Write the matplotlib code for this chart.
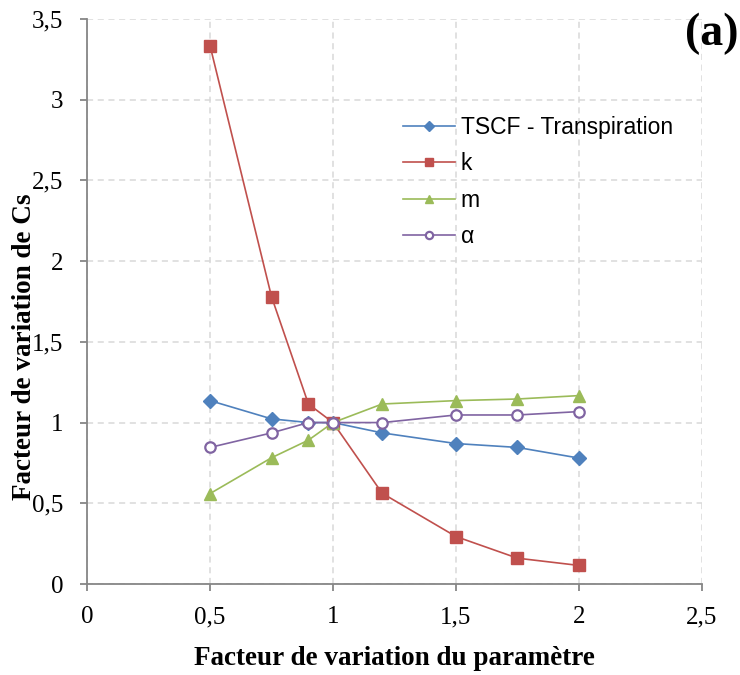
import matplotlib
matplotlib.use("Agg")
import matplotlib.pyplot as plt
from matplotlib.ticker import FuncFormatter

x = [0.5, 0.75, 0.9, 1.0, 1.2, 1.5, 1.75, 2.0]
tscf = [1.136, 1.023, 1.0, 1.0, 0.936, 0.870, 0.846, 0.780]
k_vals = [3.335, 1.780, 1.115, 1.0, 0.562, 0.294, 0.160, 0.115]
m_vals = [0.560, 0.782, 0.891, 1.0, 1.115, 1.136, 1.146, 1.167]
alpha_vals = [0.846, 0.936, 1.0, 1.0, 1.0, 1.047, 1.047, 1.068]
labels = ["TSCF - Transpiration", "k", "m", "α"]

fig = plt.figure(figsize=(7.4, 6.75), dpi=100)
ax = fig.add_axes([0.1176, 0.1348, 0.8310, 0.8371])

ms = 8.5
ax.plot(x, tscf, color="#4F81BD", lw=1.2, marker="D", ms=7.5, label=labels[0])
ax.plot(x, k_vals, color="#C0504D", lw=1.2, marker="s", ms=ms, label=labels[1])
ax.plot(x, m_vals, color="#9BBB59", lw=1.2, marker="^", ms=ms, label=labels[2])
ax.plot(x, alpha_vals, color="#8064A2", lw=1.2, marker="o", ms=7.5, mfc="white",
        mew=1.6, label=labels[3])

ax.set_xlim(0, 2.5)
ax.set_ylim(0, 3.5)
ax.set_xticks([0, 0.5, 1, 1.5, 2, 2.5])
ax.set_yticks([0, 0.5, 1, 1.5, 2, 2.5, 3, 3.5])
fmt = FuncFormatter(lambda v, p: ("%g" % v).replace(".", ","))
ax.xaxis.set_major_formatter(fmt)
ax.yaxis.set_major_formatter(fmt)

ax.grid(True, color="#D9D9D9", ls=(0, (4, 3)), lw=1.1)
ax.set_axisbelow(True)
for s in ["top", "right"]:
    ax.spines[s].set_visible(False)
for s in ["left", "bottom"]:
    ax.spines[s].set_color("#868686")
    ax.spines[s].set_linewidth(1.3)
ax.tick_params(axis="both", direction="out", length=5, width=1.3, color="#868686",
               labelsize=18)
ax.tick_params(axis="y", pad=12)
ax.tick_params(axis="x", pad=11)
for lab in ax.get_xticklabels() + ax.get_yticklabels():
    lab.set_fontfamily("Liberation Serif")

ax.set_xlabel("Facteur de variation du paramètre", fontsize=19.5, fontweight="bold",
              fontfamily="Liberation Serif", labelpad=13)
fig.text(0.033, 0.486, "Facteur de variation de Cs", rotation=90, fontsize=19.5,
         fontweight="bold", fontfamily="Liberation Serif", ha="center", va="center")

leg = ax.legend(loc="upper left", bbox_to_anchor=(0.514, 0.829), frameon=False,
                prop={"family": "Liberation Sans", "size": 16.5}, markerscale=0.7,
                handlelength=2.26, handletextpad=0.25, labelspacing=0.59,
                borderpad=0, borderaxespad=0)

fig.text(0.962, 0.950, "(a)", fontsize=33, fontweight="bold",
         fontfamily="Liberation Serif", ha="center", va="center")

fig.savefig("out.png", dpi=100)
